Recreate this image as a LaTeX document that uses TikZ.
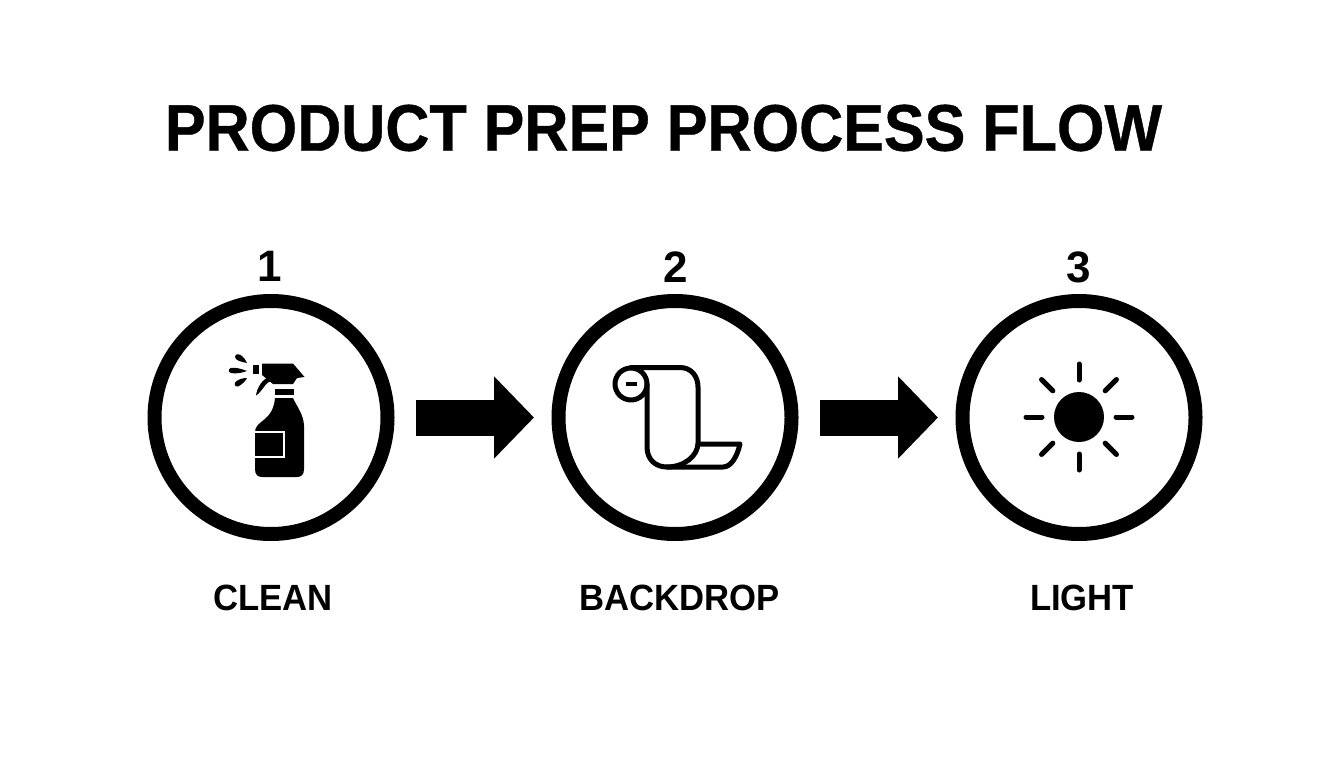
\documentclass[tikz,border=0pt]{standalone}
\usepackage{fontspec}
\setmainfont{Liberation Sans}
\newfontfamily\titlefont[FakeStretch=0.925,FakeBold=0.6]{Liberation Sans}
\newfontfamily\stepfont[FakeStretch=0.95]{Liberation Sans}
\usetikzlibrary{arrows.meta}
\tikzset{
    stepcircle/.style={circle,draw=black,line width=14pt,fill=white,minimum size=233pt,inner sep=0pt},
    titletext/.style={inner sep=0pt,font=\titlefont\bfseries\fontsize{66}{70}\selectfont},
    numtext/.style={inner sep=0pt,font=\bfseries\fontsize{44}{48}\selectfont},
    steptext/.style={inner sep=0pt,font=\stepfont\bfseries\fontsize{36.5}{40}\selectfont},
    flowarrow/.style={line width=36pt,-{Triangle[length=40pt,width=80pt]},shorten <=21.5pt,shorten >=17.5pt},
    iconline/.style={line width=5pt,line join=round,line cap=round},
    rayline/.style={line width=5pt,line cap=round}
}
\begin{document}
\begin{tikzpicture}[x=1pt,y=-1pt]
    \useasboundingbox (0,0) rectangle (1344,768);
    \node[titletext] (Title) at (663.5,128) {PRODUCT PREP PROCESS FLOW};
    \node[numtext] (N1) at (270,266.5) {1};
    \node[numtext] (N2) at (676,267) {2};
    \node[numtext] (N3) at (1079,267) {3};
    \node[stepcircle] (Clean) at (271,417.5) {};
    \node[stepcircle] (Backdrop) at (675,417.5) {};
    \node[stepcircle] (Light) at (1079,417.5) {};
    \node[steptext] (L1) at (273,598) {CLEAN};
    \node[steptext] (L2) at (679.5,598) {BACKDROP};
    \node[steptext] (L3) at (1082,598) {LIGHT};
    \draw[flowarrow] (Clean) -- (Backdrop);
    \draw[flowarrow] (Backdrop) -- (Light);
    % spray bottle
    \fill (275,398) -- (293,398) .. controls (296,405) and (304,415) .. (304,426) -- (304,469)
        .. controls (304,475) and (301,477) .. (297,477) -- (262,477)
        .. controls (258,477) and (255,475) .. (255,469) -- (255,432)
        .. controls (255,420) and (273,422) .. (275,398) -- cycle;
    \draw[white,line width=2.5pt] (251,432) rectangle (284,457);
    \fill (275,389) rectangle (294,394.5);
    \fill (262,363.5) -- (293,363.5) -- (304.5,377) -- (297,378) -- (293,384)
        -- (273,384) -- (262,375) -- cycle;
    \fill (252.5,365) rectangle (259,373.5);
    \fill (270,376.5) .. controls (262,379) and (257,388) .. (256,395.5)
        .. controls (263,391) and (265,382) .. (272,380.5) -- cycle;
    \fill (247,363) .. controls (241,362) and (235,360) .. (235,357)
        .. controls (235,353) and (240,354) .. (242,356) .. controls (244,358) and (246,360) .. (247,363) -- cycle;
    \fill (247,371) .. controls (242,373) and (235,374) .. (231,373)
        .. controls (228,372) and (228,369) .. (231,368) .. controls (235,367) and (242,369) .. (247,371) -- cycle;
    \fill (247,378) .. controls (245,382) and (241,385) .. (238,386.5)
        .. controls (234,387) and (234,383) .. (236,381.5) .. controls (239,379) and (243,378) .. (247,378) -- cycle;
    % paper roll
    \draw[iconline] (631,367.5) -- (680,367.5) .. controls (691,367.5) and (698,376) .. (698,387) -- (698,443)
        .. controls (698,456) and (684,467) .. (667,467) .. controls (655,467) and (647,459) .. (647,447) -- (647,384);
    \draw[iconline] (631,384) circle (16pt);
    \draw[line width=4pt] (626,384) -- (637,384);
    \draw[iconline] (699,444) -- (740,444) .. controls (737,457) and (731,467) .. (723,467) -- (667,467);
    % sun
    \fill (1079,417) circle (25pt);
    \foreach \a in {0,45,...,315}
        \draw[rayline] (1079,417) ++(\a:37) -- ++(\a:16);
\end{tikzpicture}
\end{document}
